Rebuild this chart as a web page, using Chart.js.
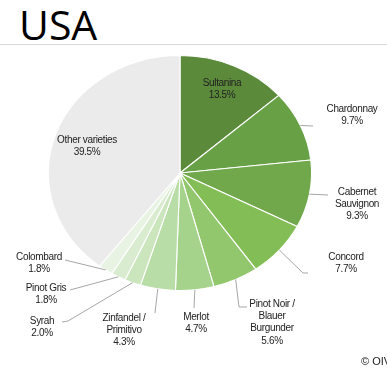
<!DOCTYPE html>
<html>
<head>
<meta charset="utf-8">
<title>USA</title>
<script src="https://cdn.jsdelivr.net/npm/chart.js@4/dist/chart.umd.min.js"></script>
<style>
  html, body { margin: 0; padding: 0; background: #fff; overflow: hidden; }
  .page { position: relative; width: 387px; height: 369px; overflow: hidden; }
  .title { position: absolute; left: 19px; top: -4px; font: 41px "Open Sans", sans-serif; color: #000; }
  .rule { position: absolute; left: 0; top: 44px; width: 387px; height: 1px; background: #d9d9d9; }
  .source { position: absolute; left: 361px; top: 355px; font: 11px "Liberation Sans", Arial, sans-serif; color: #222; white-space: nowrap; }
  canvas { position: absolute; left: 0; top: 0; }
</style>
</head>
<body>
<div class="page">
  <div class="title">USA</div>
  <div class="rule"></div>
  <canvas id="pie" width="387" height="369"></canvas>
  <div class="source">© OIV</div>
</div>
<script>
// Grape varieties, share of vineyard area (%)
const varieties = ['Sultanina', 'Chardonnay', 'Cabernet\nSauvignon', 'Concord', 'Pinot Noir /\nBlauer\nBurgunder',
                   'Merlot', 'Zinfandel /\nPrimitivo', 'Syrah', 'Pinot Gris', 'Colombard', 'Other varieties'];
const shares = [13.5, 9.7, 9.3, 7.7, 5.6, 4.7, 4.3, 2.0, 1.8, 1.8, 39.5];
const sliceColors = ['#5b8a3b', '#68a046', '#70a84b', '#82bd55', '#92c76e', '#a6d38c',
                     '#b9dda6', '#cbe5bd', '#daecd0', '#e8f3e3', '#ebebeb'];

// pie is drawn a bit wider than tall
const X_STRETCH = 1.12;

// where each label sits (center of first line) and the bends of its leader line
const labelLayout = [
  { x: 222, y: 83 },
  { x: 352, y: 109, leader: [[313, 126]] },
  { x: 357, y: 192, leader: [[328, 195]] },
  { x: 346, y: 257, leader: [[303, 273], [308, 273]] },
  { x: 272, y: 304, leader: [[239, 307], [247, 307]] },
  { x: 196, y: 317, leader: [[194, 308]] },
  { x: 124, y: 318, leader: [[155, 313]] },
  { x: 42, y: 321, leader: [[68, 321], [62, 322]] },
  { x: 46, y: 288, leader: [[70, 290]] },
  { x: 39, y: 257, leader: [[65, 260]] },
  { x: 87, y: 140 }
];
const LINE_H = 12.3;

const stretchPlugin = {
  id: 'stretch',
  beforeDatasetsDraw(chart) {
    const arc = chart.getDatasetMeta(0).data[0];
    const ctx = chart.ctx;
    ctx.save();
    ctx.translate(arc.x, 0);
    ctx.scale(X_STRETCH, 1);
    ctx.translate(-arc.x, 0);
  },
  afterDatasetsDraw(chart) {
    chart.ctx.restore();
  }
};

const labelPlugin = {
  id: 'sliceLabels',
  afterDraw(chart) {
    const ctx = chart.ctx;
    const arcs = chart.getDatasetMeta(0).data;
    ctx.save();
    arcs.forEach((arc, i) => {
      const p = arc.getProps(['x', 'y', 'startAngle', 'endAngle', 'outerRadius'], true);
      const mid = (p.startAngle + p.endAngle) / 2;
      const ex = p.x + Math.cos(mid) * p.outerRadius * X_STRETCH;
      const ey = p.y + Math.sin(mid) * p.outerRadius;
      const lay = labelLayout[i];

      if (lay.leader) {
        ctx.strokeStyle = '#a6a6a6';
        ctx.lineWidth = 1;
        ctx.beginPath();
        ctx.moveTo(ex, ey);
        lay.leader.forEach(pt => ctx.lineTo(pt[0], pt[1]));
        ctx.stroke();
      }

      const lines = varieties[i].split('\n').concat(shares[i].toFixed(1) + '%');
      ctx.fillStyle = '#222';
      ctx.font = '10px "Liberation Sans", Arial, sans-serif';
      ctx.letterSpacing = '-0.35px';
      ctx.textAlign = 'center';
      ctx.textBaseline = 'middle';
      lines.forEach((t, k) => ctx.fillText(t, lay.x, lay.y + k * LINE_H));
    });
    ctx.restore();
  }
};

new Chart(document.getElementById('pie'), {
  type: 'pie',
  data: {
    labels: varieties,
    datasets: [{
      data: shares,
      backgroundColor: sliceColors,
      borderColor: '#ffffff',
      borderWidth: 1
    }]
  },
  options: {
    responsive: false,
    animation: false,
    layout: { padding: { top: 55, bottom: 78, left: 62, right: 89 } },
    plugins: {
      legend: { display: false },
      tooltip: { enabled: false }
    }
  },
  plugins: [stretchPlugin, labelPlugin]
});
</script>
</body>
</html>
